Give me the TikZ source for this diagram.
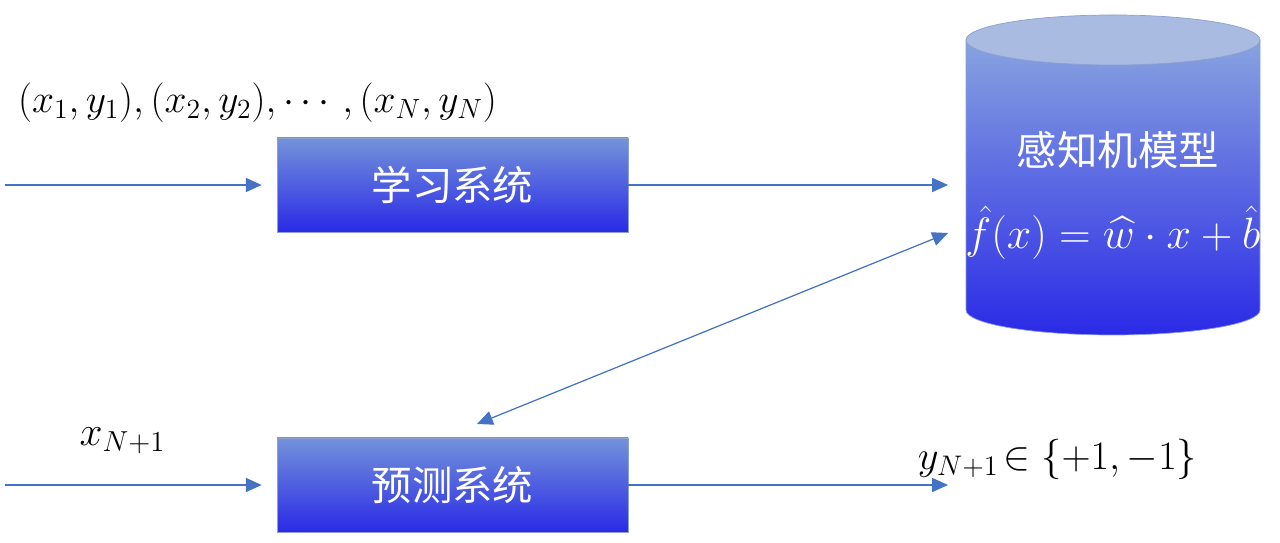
\documentclass[tikz,border=0pt]{standalone}
\usepackage{fix-cm}
\usepackage{amsmath}
\usepackage{amssymb}
\usepackage{fontspec}
\newfontfamily\cjk{Noto Sans CJK SC}
\usepackage{tikz}
\usetikzlibrary{arrows.meta}
\definecolor{seta}{HTML}{4472C4}
\definecolor{borda}{HTML}{8DA0D0}
\definecolor{claro}{HTML}{7393DA}
\definecolor{escuro}{HTML}{2A2AE6}
\definecolor{tampa}{HTML}{AABBE2}

\begin{document}
\begin{tikzpicture}[thin,
	caixa/.style={draw=borda, top color=claro, bottom color=escuro, minimum width=7.02cm, minimum height=1.88cm, text=white, font=\cjk\fontsize{23}{26}\selectfont},
	fluxo/.style={draw=seta, line width=0.7pt, -{Triangle[length=9pt,width=8pt]}},
	rotulo/.style={font=\fontsize{22.5}{26}\selectfont}]
	\useasboundingbox (0,0) rectangle (25.6,10.86);

		% As caixas dos sistemas
			\node[caixa] (aprend) at (9.05,7.16) {学习系统};
			\node[caixa] (pred) at (9.05,1.16) {预测系统};

		% O cilindro do modelo
			\shade[top color=claro!85!white, bottom color=escuro, draw=borda]
				(19.32,10.06) -- (19.32,4.66) arc (180:360:2.94 and 0.5) -- (25.2,10.06) -- cycle;
			\filldraw[fill=tampa, draw=borda] (22.26,10.06) ellipse (2.94 and 0.5);
			\node[text=white, font=\cjk\fontsize{23}{26}\selectfont] (nome) at (22.36,7.86) {感知机模型};
			\node[text=white, font=\fontsize{25}{30}\selectfont] (func) at (22.26,6.2) {$\hat{f}(x)=\widehat{w}\cdot x+\hat{b}$};

		% Pontas soltas das setas
			\coordinate (entA) at (0.1,7.16);
			\coordinate (entB) at (0.1,1.16);
			\coordinate (modA) at (18.96,7.16);
			\coordinate (modB) at (18.96,6.2);
			\coordinate (saida) at (18.96,1.16);
			\coordinate (predB) at (9.54,2.38);

		% As setas
			\draw[fluxo] (entA) -- ([xshift=-0.3cm]aprend.west);
			\draw[fluxo] (aprend.east) -- (modA);
			\draw[fluxo] (entB) -- ([xshift=-0.3cm]pred.west);
			\draw[fluxo] (pred.east) -- (saida);
			\draw[fluxo, {Triangle[length=9pt,width=8pt]}-{Triangle[length=9pt,width=8pt]}] (predB) -- (modB);

		% Os rotulos
			\node[rotulo] (dados) at (5.15,8.8) {$(x_1,y_1),(x_2,y_2),\cdots,(x_N,y_N)$};
			\node[rotulo, font=\fontsize{23.5}{26}\selectfont] (xnovo) at (2.45,2.05) {$x_{N+1}$};
			\node[rotulo, font=\fontsize{23}{26}\selectfont] (ynovo) at (21.15,1.68) {$y_{N+1}\!\in\{+1,-1\}$};
\end{tikzpicture}
\end{document}
